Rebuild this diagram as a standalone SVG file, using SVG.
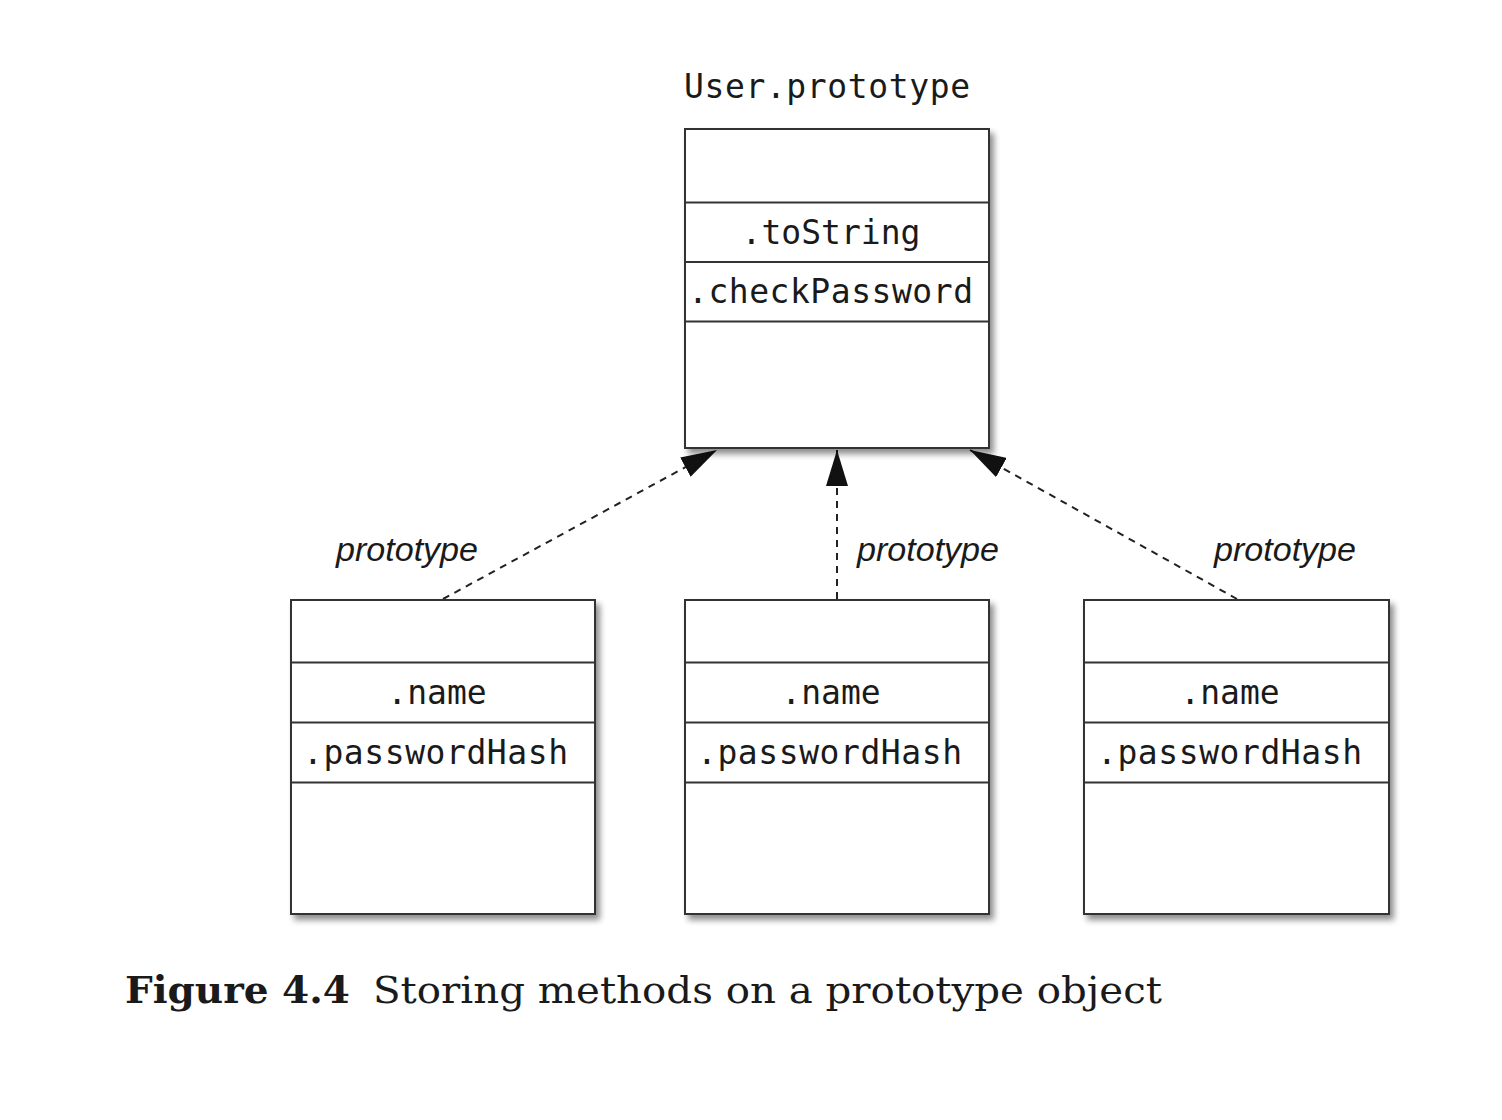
<svg xmlns="http://www.w3.org/2000/svg" width="1502" height="1120" viewBox="0 0 1502 1120">
<style>
.box{fill:#fff;stroke:#333;stroke-width:2}
.div{stroke:#333;stroke-width:2}
.mono{font-family:"DejaVu Sans Mono","Liberation Mono",monospace;font-size:33px;fill:#1a1a1a}
.lbl{font-family:"Liberation Sans",Arial,sans-serif;font-style:italic;font-size:33px;fill:#1a1a1a}
.conn{stroke:#222;stroke-width:2;stroke-dasharray:7 6;fill:none}
.cap{font-family:"DejaVu Serif","Liberation Serif",serif;font-size:38px;fill:#1a1a1a}
</style>
<defs>
<filter id="sh" x="-10%" y="-10%" width="130%" height="130%">
<feGaussianBlur in="SourceAlpha" stdDeviation="3"/>
<feOffset dx="4" dy="5" result="b"/>
<feComponentTransfer><feFuncA type="linear" slope="0.45"/></feComponentTransfer>
<feMerge><feMergeNode/><feMergeNode in="SourceGraphic"/></feMerge>
</filter>
<marker id="ah" viewBox="0 0 36 22" refX="36" refY="11" markerWidth="36" markerHeight="22" markerUnits="userSpaceOnUse" orient="auto">
<path d="M0,0 L36,11 L0,22 Z" fill="#111"/>
</marker>
</defs>

<g id="connectors">
<line class="conn" x1="443" y1="599" x2="717" y2="450" marker-end="url(#ah)"/>
<line class="conn" x1="837" y1="599" x2="837" y2="450" marker-end="url(#ah)"/>
<line class="conn" x1="1237" y1="599" x2="970" y2="450" marker-end="url(#ah)"/>
<text class="lbl" x="336" y="561" textLength="142" lengthAdjust="spacingAndGlyphs">prototype</text>
<text class="lbl" x="857" y="561" textLength="142" lengthAdjust="spacingAndGlyphs">prototype</text>
<text class="lbl" x="1214" y="561" textLength="142" lengthAdjust="spacingAndGlyphs">prototype</text>
</g>

<g id="user-prototype">
<text class="mono" x="684" y="98" textLength="286">User.prototype</text>
<rect class="box" x="685" y="129" width="304" height="319" filter="url(#sh)"/>
<line class="div" x1="685" y1="202.5" x2="989" y2="202.5"/>
<line class="div" x1="685" y1="262" x2="989" y2="262"/>
<line class="div" x1="685" y1="321.5" x2="989" y2="321.5"/>
<text class="mono" x="831" y="244" text-anchor="middle">.toString</text>
<text class="mono" x="688" y="303" textLength="285">.checkPassword</text>
</g>

<g id="user1">
<rect class="box" x="291" y="600" width="304" height="314" filter="url(#sh)"/>
<line class="div" x1="291" y1="662.5" x2="595" y2="662.5"/>
<line class="div" x1="291" y1="722.5" x2="595" y2="722.5"/>
<line class="div" x1="291" y1="782.5" x2="595" y2="782.5"/>
<text class="mono" x="437" y="704" text-anchor="middle">.name</text>
<text class="mono" x="303" y="764" textLength="265">.passwordHash</text>
</g>

<g id="user2">
<rect class="box" x="685" y="600" width="304" height="314" filter="url(#sh)"/>
<line class="div" x1="685" y1="662.5" x2="989" y2="662.5"/>
<line class="div" x1="685" y1="722.5" x2="989" y2="722.5"/>
<line class="div" x1="685" y1="782.5" x2="989" y2="782.5"/>
<text class="mono" x="831" y="704" text-anchor="middle">.name</text>
<text class="mono" x="697" y="764" textLength="265">.passwordHash</text>
</g>

<g id="user3">
<rect class="box" x="1084" y="600" width="305" height="314" filter="url(#sh)"/>
<line class="div" x1="1084" y1="662.5" x2="1389" y2="662.5"/>
<line class="div" x1="1084" y1="722.5" x2="1389" y2="722.5"/>
<line class="div" x1="1084" y1="782.5" x2="1389" y2="782.5"/>
<text class="mono" x="1230" y="704" text-anchor="middle">.name</text>
<text class="mono" x="1097" y="764" textLength="265">.passwordHash</text>
</g>

<g id="caption">
<text class="cap" x="125" y="1003" font-weight="bold" textLength="225" lengthAdjust="spacingAndGlyphs">Figure 4.4</text>
<text class="cap" x="373" y="1003" textLength="789" lengthAdjust="spacingAndGlyphs">Storing methods on a prototype object</text>
</g>
</svg>
